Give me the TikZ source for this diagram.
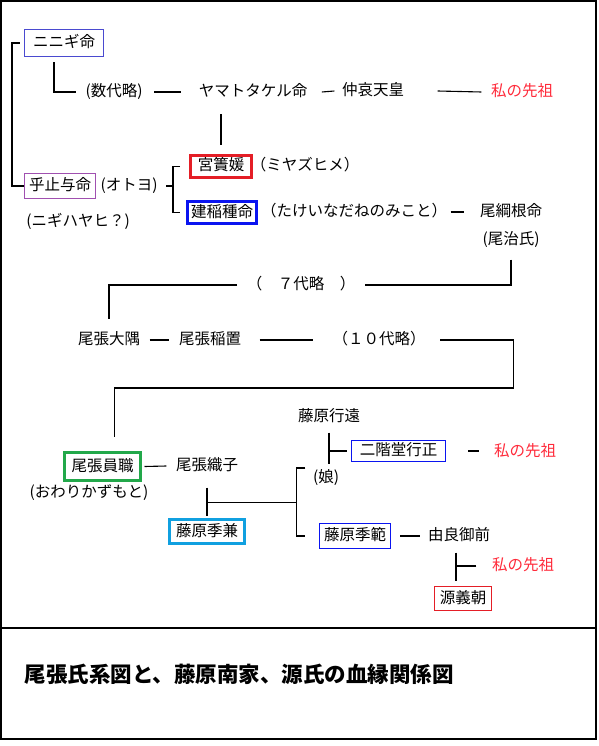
\documentclass[tikz,border=0pt]{standalone}
\usepackage{fontspec}
\newfontfamily\jp{Noto Sans CJK JP}
\usepackage{tikz}
\usetikzlibrary{positioning}
\definecolor{nini}{HTML}{4A4AD0}
\definecolor{otoyocol}{HTML}{A050B0}
\definecolor{akared}{HTML}{E41E26}
\definecolor{aoblue}{HTML}{0A14F0}
\definecolor{midori}{HTML}{22A84A}
\definecolor{mizu}{HTML}{10A0E0}
\definecolor{senso}{HTML}{FF2A3A}

\begin{document}
\begin{tikzpicture}[x=1pt,y=-1pt,line width=1.1pt,
    every node/.style={font=\jp\fontsize{15.5}{18}\selectfont, inner sep=0pt, text height=11.5pt, text depth=2.5pt},
    hako/.style={draw=#1, line width=1.1pt},
    futo/.style={draw=#1, line width=3pt},
    sakiso/.style={text=senso}]
    \useasboundingbox (0,0) rectangle (598,746);
    \draw[line width=1.8pt](1,1) rectangle (596,739);
    \draw[line width=1.6pt](1,628)--(596,628);

    \node[hako=nini, minimum width=79, minimum height=27] (ninigi) at (64,43) {ニニギ命};
    \node (sudai) at (114,92) {(数代略)};
    \node (yamato) at (253,92) {ヤマトタケル命};
    \node (chuai) at (373,91) {仲哀天皇};
    \node[sakiso] (senso1) at (522,92) {私の先祖};
    \node[hako=otoyocol, minimum width=71, minimum height=25] (otoyo) at (60,186) {乎止与命};
    \node (otoyok) at (129,186) {(オトヨ)};
    \node (nigi) at (78,222) {(ニギハヤヒ？)};
    \node[futo=akared, minimum width=61, minimum height=22] (miyazu) at (221,166.5) {宮簀媛};
    \node (miyazuk) at (305,166) {（ミヤズヒメ）};
    \node[futo=aoblue, minimum width=69, minimum height=22] (takei) at (222,212.5) {建稲種命};
    \node (takeik) at (354,212) {（たけいなだねのみこと）};
    \node (ozuna) at (511,212) {尾綱根命};
    \node (owariuji) at (511,240) {(尾治氏)};
    \node (nana) at (301,285) {（　７代略　）};
    \node (oosumi) at (109,340) {尾張大隅};
    \node (inaki) at (210,340) {尾張稲置};
    \node (juu) at (379,340) {（１０代略）};
    \node[futo=midori, minimum width=76, minimum height=28] (kazumoto) at (102.5,466.5) {尾張員職};
    \node (kazumotok) at (89,493) {(おわりかずもと)};
    \node (orihime) at (207,466) {尾張織子};
    \node[futo=mizu, minimum width=75, minimum height=24] (suekane) at (207,531.5) {藤原季兼};
    \node (yukito) at (329,417) {藤原行遠};
    \node[hako=aoblue, minimum width=94, minimum height=21] (nikaido) at (398.5,451) {二階堂行正};
    \node[sakiso] (senso2) at (525,452) {私の先祖};
    \node (musume) at (326,478) {(娘)};
    \node[hako=aoblue, minimum width=71, minimum height=25] (suenori) at (355,536) {藤原季範};
    \node (yura) at (459,536) {由良御前};
    \node[sakiso] (senso3) at (523,566) {私の先祖};
    \node[hako=akared, minimum width=57, minimum height=24] (yoshitomo) at (463,598.5) {源義朝};
    \node[anchor=west, font=\jp\bfseries\fontsize{21.5}{24}\selectfont] (title) at (24,678) {尾張氏系図と、藤原南家、源氏の血縁関係図};

    \draw([xshift=-4pt]ninigi.west)--++(-8,0)|-(otoyo.west);
    \draw([xshift=-10pt,yshift=-5pt]ninigi.south)|-([xshift=-9pt]sudai.west);
    \draw([xshift=11pt]sudai.east)--([xshift=-17pt]yamato.west);
    \draw([xshift=14pt]yamato.east)--([xshift=-7pt]chuai.west);
    \draw([xshift=33pt]chuai.east)--([xshift=-9pt]senso1.west);
    \draw([yshift=9pt]miyazu.north)--++(0,-31);
    \draw([xshift=8pt]otoyok.east)--++(7,0);
    \draw([xshift=-9pt]miyazu.west)--++(-7,0)|-([xshift=-6pt]takei.west);
    \draw([xshift=3pt]takeik.east)--++(13,0);
    \draw([yshift=-12pt]owariuji.south)|-([xshift=9pt]nana.east);
    \draw([xshift=-9pt]nana.west)-|([yshift=13pt]oosumi.north);
    \draw([xshift=9pt]oosumi.east)--([xshift=-9pt]inaki.west);
    \draw([xshift=18pt]inaki.east)--([xshift=-19pt]juu.west);
    \draw([xshift=14pt]juu.east)--++(73,0)--++(0,48)-|([xshift=12pt,yshift=14pt]kazumoto.north);
    \draw([xshift=2.5pt]kazumoto.east)--([xshift=-9pt]orihime.west);

    \coordinate (fork) at ([yshift=-29pt]orihime.south);
    \coordinate (brk) at ([xshift=-16pt,yshift=10pt]musume.west);
    \draw([yshift=-14pt]orihime.south)--([yshift=2pt]suekane.north);
    \draw(fork)--(fork-|brk);
    \draw([xshift=9pt]brk)--(brk)|-([xshift=-14pt]suenori.west);

    \draw([yshift=-8pt]yukito.south)--++(0,31);
    \draw([xshift=-4pt]nikaido.west)--(nikaido.west-|yukito.south);
    \draw([xshift=22pt]nikaido.east)--++(11,0);
    \draw([xshift=9pt]suenori.east)--([xshift=-7pt]yura.west);

    \coordinate (yurastem) at ([xshift=-3pt,yshift=-9pt]yura.south);
    \draw(yurastem)--++(0,28);
    \draw([xshift=-15pt]senso3.west)--(senso3.west-|yurastem);
\end{tikzpicture}
\end{document}
